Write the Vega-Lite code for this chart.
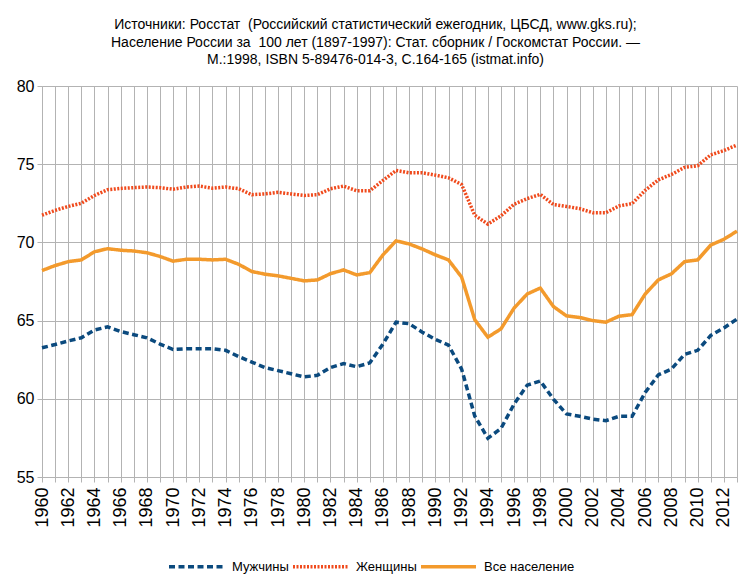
{
  "$schema": "https://vega.github.io/schema/vega-lite/v6.json",
  "width": 695,
  "height": 391,
  "autosize": {"type": "none"},
  "padding": {"left": 42, "top": 86, "right": 14, "bottom": 106},
  "title": {
    "text": [
      "Источники: Росстат \u00a0(Российский статистический ежегодник, ЦБСД, www.gks.ru);",
      "Население России за \u00a0100 лет (1897-1997): Стат. сборник / Госкомстат России. —",
      "М.:1998, ISBN 5-89476-014-3, С.164-165 (istmat.info)"
    ],
    "anchor": "middle",
    "dx": -14,
    "offset": 11,
    "font": "Liberation Sans",
    "fontSize": 14,
    "fontWeight": "normal",
    "lineHeight": 17.5,
    "color": "black"
  },
  "data": {
    "values": [
      {"year": 1960, "series": "Мужчины", "value": 63.26},
      {"year": 1961, "series": "Мужчины", "value": 63.47},
      {"year": 1962, "series": "Мужчины", "value": 63.7},
      {"year": 1963, "series": "Мужчины", "value": 63.9},
      {"year": 1964, "series": "Мужчины", "value": 64.4},
      {"year": 1965, "series": "Мужчины", "value": 64.6},
      {"year": 1966, "series": "Мужчины", "value": 64.3},
      {"year": 1967, "series": "Мужчины", "value": 64.1},
      {"year": 1968, "series": "Мужчины", "value": 63.9},
      {"year": 1969, "series": "Мужчины", "value": 63.5},
      {"year": 1970, "series": "Мужчины", "value": 63.15},
      {"year": 1971, "series": "Мужчины", "value": 63.2},
      {"year": 1972, "series": "Мужчины", "value": 63.2},
      {"year": 1973, "series": "Мужчины", "value": 63.2},
      {"year": 1974, "series": "Мужчины", "value": 63.1},
      {"year": 1975, "series": "Мужчины", "value": 62.7},
      {"year": 1976, "series": "Мужчины", "value": 62.35},
      {"year": 1977, "series": "Мужчины", "value": 62.0},
      {"year": 1978, "series": "Мужчины", "value": 61.8},
      {"year": 1979, "series": "Мужчины", "value": 61.6},
      {"year": 1980, "series": "Мужчины", "value": 61.4},
      {"year": 1981, "series": "Мужчины", "value": 61.5},
      {"year": 1982, "series": "Мужчины", "value": 62.0},
      {"year": 1983, "series": "Мужчины", "value": 62.25},
      {"year": 1984, "series": "Мужчины", "value": 62.05},
      {"year": 1985, "series": "Мужчины", "value": 62.3},
      {"year": 1986, "series": "Мужчины", "value": 63.5},
      {"year": 1987, "series": "Мужчины", "value": 64.9},
      {"year": 1988, "series": "Мужчины", "value": 64.8},
      {"year": 1989, "series": "Мужчины", "value": 64.26},
      {"year": 1990, "series": "Мужчины", "value": 63.8},
      {"year": 1991, "series": "Мужчины", "value": 63.43},
      {"year": 1992, "series": "Мужчины", "value": 61.9},
      {"year": 1993, "series": "Мужчины", "value": 58.9},
      {"year": 1994, "series": "Мужчины", "value": 57.48},
      {"year": 1995, "series": "Мужчины", "value": 58.1},
      {"year": 1996, "series": "Мужчины", "value": 59.66},
      {"year": 1997, "series": "Мужчины", "value": 60.87},
      {"year": 1998, "series": "Мужчины", "value": 61.14},
      {"year": 1999, "series": "Мужчины", "value": 59.98},
      {"year": 2000, "series": "Мужчины", "value": 59.03},
      {"year": 2001, "series": "Мужчины", "value": 58.88},
      {"year": 2002, "series": "Мужчины", "value": 58.7},
      {"year": 2003, "series": "Мужчины", "value": 58.6},
      {"year": 2004, "series": "Мужчины", "value": 58.88},
      {"year": 2005, "series": "Мужчины", "value": 58.88},
      {"year": 2006, "series": "Мужчины", "value": 60.4},
      {"year": 2007, "series": "Мужчины", "value": 61.53},
      {"year": 2008, "series": "Мужчины", "value": 61.9},
      {"year": 2009, "series": "Мужчины", "value": 62.84},
      {"year": 2010, "series": "Мужчины", "value": 63.1},
      {"year": 2011, "series": "Мужчины", "value": 64.05},
      {"year": 2012, "series": "Мужчины", "value": 64.53},
      {"year": 2013, "series": "Мужчины", "value": 65.1},
      {"year": 1960, "series": "Женщины", "value": 71.74},
      {"year": 1961, "series": "Женщины", "value": 72.05},
      {"year": 1962, "series": "Женщины", "value": 72.3},
      {"year": 1963, "series": "Женщины", "value": 72.5},
      {"year": 1964, "series": "Женщины", "value": 73.0},
      {"year": 1965, "series": "Женщины", "value": 73.37},
      {"year": 1966, "series": "Женщины", "value": 73.45},
      {"year": 1967, "series": "Женщины", "value": 73.5},
      {"year": 1968, "series": "Женщины", "value": 73.54},
      {"year": 1969, "series": "Женщины", "value": 73.5},
      {"year": 1970, "series": "Женщины", "value": 73.4},
      {"year": 1971, "series": "Женщины", "value": 73.54},
      {"year": 1972, "series": "Женщины", "value": 73.6},
      {"year": 1973, "series": "Женщины", "value": 73.47},
      {"year": 1974, "series": "Женщины", "value": 73.54},
      {"year": 1975, "series": "Женщины", "value": 73.43},
      {"year": 1976, "series": "Женщины", "value": 73.05},
      {"year": 1977, "series": "Женщины", "value": 73.1},
      {"year": 1978, "series": "Женщины", "value": 73.2},
      {"year": 1979, "series": "Женщины", "value": 73.1},
      {"year": 1980, "series": "Женщины", "value": 73.0},
      {"year": 1981, "series": "Женщины", "value": 73.05},
      {"year": 1982, "series": "Женщины", "value": 73.43},
      {"year": 1983, "series": "Женщины", "value": 73.6},
      {"year": 1984, "series": "Женщины", "value": 73.3},
      {"year": 1985, "series": "Женщины", "value": 73.3},
      {"year": 1986, "series": "Женщины", "value": 73.96},
      {"year": 1987, "series": "Женщины", "value": 74.6},
      {"year": 1988, "series": "Женщины", "value": 74.45},
      {"year": 1989, "series": "Женщины", "value": 74.45},
      {"year": 1990, "series": "Женщины", "value": 74.3},
      {"year": 1991, "series": "Женщины", "value": 74.13},
      {"year": 1992, "series": "Женщины", "value": 73.7},
      {"year": 1993, "series": "Женщины", "value": 71.74},
      {"year": 1994, "series": "Женщины", "value": 71.17},
      {"year": 1995, "series": "Женщины", "value": 71.7},
      {"year": 1996, "series": "Женщины", "value": 72.44},
      {"year": 1997, "series": "Женщины", "value": 72.8},
      {"year": 1998, "series": "Женщины", "value": 73.07},
      {"year": 1999, "series": "Женщины", "value": 72.42},
      {"year": 2000, "series": "Женщины", "value": 72.3},
      {"year": 2001, "series": "Женщины", "value": 72.16},
      {"year": 2002, "series": "Женщины", "value": 71.9},
      {"year": 2003, "series": "Женщины", "value": 71.9},
      {"year": 2004, "series": "Женщины", "value": 72.33},
      {"year": 2005, "series": "Женщины", "value": 72.48},
      {"year": 2006, "series": "Женщины", "value": 73.33},
      {"year": 2007, "series": "Женщины", "value": 74.0},
      {"year": 2008, "series": "Женщины", "value": 74.34},
      {"year": 2009, "series": "Женщины", "value": 74.8},
      {"year": 2010, "series": "Женщины", "value": 74.9},
      {"year": 2011, "series": "Женщины", "value": 75.6},
      {"year": 2012, "series": "Женщины", "value": 75.87},
      {"year": 2013, "series": "Женщины", "value": 76.23},
      {"year": 1960, "series": "Все население", "value": 68.2},
      {"year": 1961, "series": "Все население", "value": 68.52},
      {"year": 1962, "series": "Все население", "value": 68.77},
      {"year": 1963, "series": "Все население", "value": 68.88},
      {"year": 1964, "series": "Все население", "value": 69.4},
      {"year": 1965, "series": "Все население", "value": 69.6},
      {"year": 1966, "series": "Все население", "value": 69.5},
      {"year": 1967, "series": "Все население", "value": 69.45},
      {"year": 1968, "series": "Все население", "value": 69.34},
      {"year": 1969, "series": "Все население", "value": 69.1},
      {"year": 1970, "series": "Все население", "value": 68.8},
      {"year": 1971, "series": "Все население", "value": 68.92},
      {"year": 1972, "series": "Все население", "value": 68.92},
      {"year": 1973, "series": "Все население", "value": 68.88},
      {"year": 1974, "series": "Все население", "value": 68.92},
      {"year": 1975, "series": "Все население", "value": 68.6},
      {"year": 1976, "series": "Все население", "value": 68.14},
      {"year": 1977, "series": "Все население", "value": 67.97},
      {"year": 1978, "series": "Все население", "value": 67.86},
      {"year": 1979, "series": "Все население", "value": 67.7},
      {"year": 1980, "series": "Все население", "value": 67.54},
      {"year": 1981, "series": "Все население", "value": 67.6},
      {"year": 1982, "series": "Все население", "value": 68.0},
      {"year": 1983, "series": "Все население", "value": 68.24},
      {"year": 1984, "series": "Все население", "value": 67.92},
      {"year": 1985, "series": "Все население", "value": 68.07},
      {"year": 1986, "series": "Все население", "value": 69.2},
      {"year": 1987, "series": "Все население", "value": 70.1},
      {"year": 1988, "series": "Все население", "value": 69.9},
      {"year": 1989, "series": "Все население", "value": 69.58},
      {"year": 1990, "series": "Все население", "value": 69.2},
      {"year": 1991, "series": "Все население", "value": 68.88},
      {"year": 1992, "series": "Все население", "value": 67.78},
      {"year": 1993, "series": "Все население", "value": 65.06},
      {"year": 1994, "series": "Все население", "value": 63.94},
      {"year": 1995, "series": "Все население", "value": 64.47},
      {"year": 1996, "series": "Все население", "value": 65.8},
      {"year": 1997, "series": "Все население", "value": 66.7},
      {"year": 1998, "series": "Все население", "value": 67.08},
      {"year": 1999, "series": "Все население", "value": 65.9},
      {"year": 2000, "series": "Все население", "value": 65.3},
      {"year": 2001, "series": "Все население", "value": 65.2},
      {"year": 2002, "series": "Все население", "value": 65.0},
      {"year": 2003, "series": "Все население", "value": 64.9},
      {"year": 2004, "series": "Все население", "value": 65.28},
      {"year": 2005, "series": "Все население", "value": 65.38},
      {"year": 2006, "series": "Все население", "value": 66.7},
      {"year": 2007, "series": "Все население", "value": 67.6},
      {"year": 2008, "series": "Все население", "value": 67.99},
      {"year": 2009, "series": "Все население", "value": 68.77},
      {"year": 2010, "series": "Все население", "value": 68.88},
      {"year": 2011, "series": "Все население", "value": 69.83},
      {"year": 2012, "series": "Все население", "value": 70.2},
      {"year": 2013, "series": "Все население", "value": 70.72}
    ]
  },
  "mark": {"type": "line", "strokeWidth": 3.5, "interpolate": "linear"},
  "encoding": {
    "x": {
      "field": "year",
      "type": "quantitative",
      "scale": {"domain": [1960, 2013], "nice": false, "zero": false},
      "axis": {
        "title": null,
        "values": [1960, 1961, 1962, 1963, 1964, 1965, 1966, 1967, 1968, 1969, 1970, 1971, 1972, 1973, 1974, 1975, 1976, 1977, 1978, 1979, 1980, 1981, 1982, 1983, 1984, 1985, 1986, 1987, 1988, 1989, 1990, 1991, 1992, 1993, 1994, 1995, 1996, 1997, 1998, 1999, 2000, 2001, 2002, 2003, 2004, 2005, 2006, 2007, 2008, 2009, 2010, 2011, 2012, 2013],
        "labelExpr": "datum.value % 2 == 0 ? datum.value + '' : ''",
        "labelAngle": -90,
        "labelAlign": "right",
        "labelBaseline": "middle",
        "labelFont": "Liberation Sans",
        "labelFontSize": 18,
        "labelColor": "black",
        "labelPadding": 5,
        "labelOverlap": false,
        "labelFlush": false,
        "tickSize": 5,
        "tickColor": "#b3b3b3",
        "domainColor": "#b3b3b3",
        "gridColor": "#b3b3b3",
        "gridOpacity": 1
      }
    },
    "y": {
      "field": "value",
      "type": "quantitative",
      "scale": {"domain": [55, 80], "nice": false, "zero": false},
      "axis": {
        "title": null,
        "values": [55, 60, 65, 70, 75, 80],
        "labelFont": "Liberation Sans",
        "labelFontSize": 16,
        "labelColor": "black",
        "labelPadding": 3,
        "labelFlush": false,
        "tickSize": 5,
        "tickColor": "#b3b3b3",
        "domainColor": "#b3b3b3",
        "gridColor": "#b3b3b3",
        "gridOpacity": 1
      }
    },
    "color": {
      "field": "series",
      "type": "nominal",
      "scale": {
        "domain": ["Мужчины", "Женщины", "Все население"],
        "range": ["#0b4a7e", "#f04a1c", "#f39a2c"]
      },
      "legend": {
        "title": null,
        "orient": "none",
        "direction": "horizontal",
        "legendX": 125,
        "legendY": 451,
        "symbolType": "stroke",
        "symbolSize": 3025,
        "symbolStrokeWidth": 3.5,
        "labelFont": "Liberation Sans",
        "labelFontSize": 13,
        "labelColor": "black",
        "labelOffset": 6,
        "columnPadding": -3
      }
    },
    "strokeDash": {
      "field": "series",
      "type": "nominal",
      "scale": {
        "domain": ["Мужчины", "Женщины", "Все население"],
        "range": [[6, 3.5], [2, 1.5], [1, 0]]
      },
      "legend": {
        "title": null,
        "orient": "none",
        "direction": "horizontal",
        "legendX": 125,
        "legendY": 451,
        "symbolType": "stroke",
        "symbolSize": 3025,
        "symbolStrokeWidth": 3.5,
        "labelFont": "Liberation Sans",
        "labelFontSize": 13,
        "labelColor": "black",
        "labelOffset": 6,
        "columnPadding": -3
      }
    }
  },
  "config": {
    "view": {"stroke": null}
  }
}
